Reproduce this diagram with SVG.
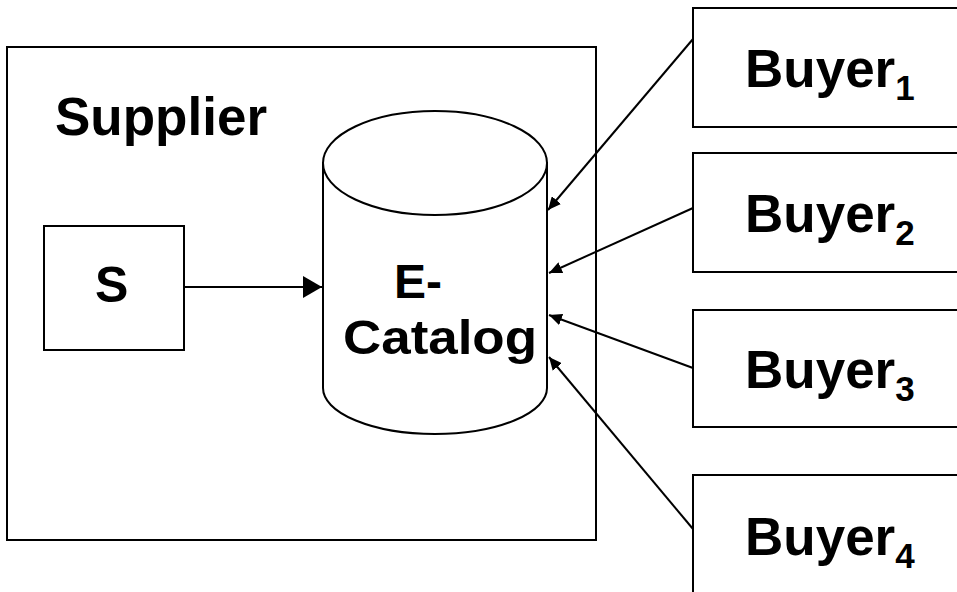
<svg xmlns="http://www.w3.org/2000/svg" width="957" height="592" viewBox="0 0 957 592">
<style>
.box{fill:#fff;stroke:#000;stroke-width:2}
.lbl{font-family:"Liberation Sans",Arial,sans-serif;font-weight:bold;fill:#000}
.conn{stroke:#000;stroke-width:2;fill:none}
</style>
<defs>
<marker id="big" markerUnits="userSpaceOnUse" markerWidth="20" markerHeight="22" refX="19" refY="11" orient="auto">
<path d="M0,0 L19,11 L0,22 Z" fill="#000"/>
</marker>
<marker id="small" markerUnits="userSpaceOnUse" markerWidth="14" markerHeight="12" refX="13" refY="6" orient="auto">
<path d="M0,0 L13,6 L0,12 Z" fill="#000"/>
</marker>
</defs>
<rect width="957" height="592" fill="#fff"/>
<g id="supplier">
<rect class="box" x="7" y="47" width="589" height="493"/>
<text class="lbl" x="55" y="135" font-size="53">Supplier</text>
</g>
<g id="s">
<rect class="box" x="44" y="226" width="140" height="124"/>
<text class="lbl" x="95" y="302" font-size="50">S</text>
</g>
<g id="ecatalog">
<path class="box" d="M323,163 L323,388 A112,46 0 0 0 547,388 L547,163 Z"/>
<ellipse class="box" cx="435" cy="163" rx="112" ry="52"/>
<text class="lbl" x="394" y="298" font-size="48">E-</text>
<text class="lbl" x="343" y="354" font-size="48" textLength="194" lengthAdjust="spacingAndGlyphs">Catalog</text>
</g>
<g id="buyer1">
<rect class="box" x="693" y="8" width="280" height="119"/>
<text class="lbl" x="745" y="87" font-size="53">Buyer<tspan font-size="35" dy="13">1</tspan></text>
</g>
<g id="buyer2">
<rect class="box" x="693" y="153" width="280" height="119"/>
<text class="lbl" x="745" y="232" font-size="53">Buyer<tspan font-size="35" dy="13">2</tspan></text>
</g>
<g id="buyer3">
<rect class="box" x="693" y="310" width="280" height="117"/>
<text class="lbl" x="745" y="388" font-size="53">Buyer<tspan font-size="35" dy="13">3</tspan></text>
</g>
<g id="buyer4">
<rect class="box" x="693" y="475" width="280" height="140"/>
<text class="lbl" x="745" y="555" font-size="53">Buyer<tspan font-size="35" dy="13">4</tspan></text>
</g>
<g id="connectors">
<line class="conn" x1="184" y1="287" x2="322" y2="287" marker-end="url(#big)"/>
<line class="conn" x1="693" y1="39" x2="548" y2="210" marker-end="url(#small)"/>
<line class="conn" x1="693" y1="208" x2="549" y2="273" marker-end="url(#small)"/>
<line class="conn" x1="693" y1="368" x2="549" y2="315" marker-end="url(#small)"/>
<line class="conn" x1="693" y1="529" x2="549" y2="357" marker-end="url(#small)"/>
</g>
</svg>
